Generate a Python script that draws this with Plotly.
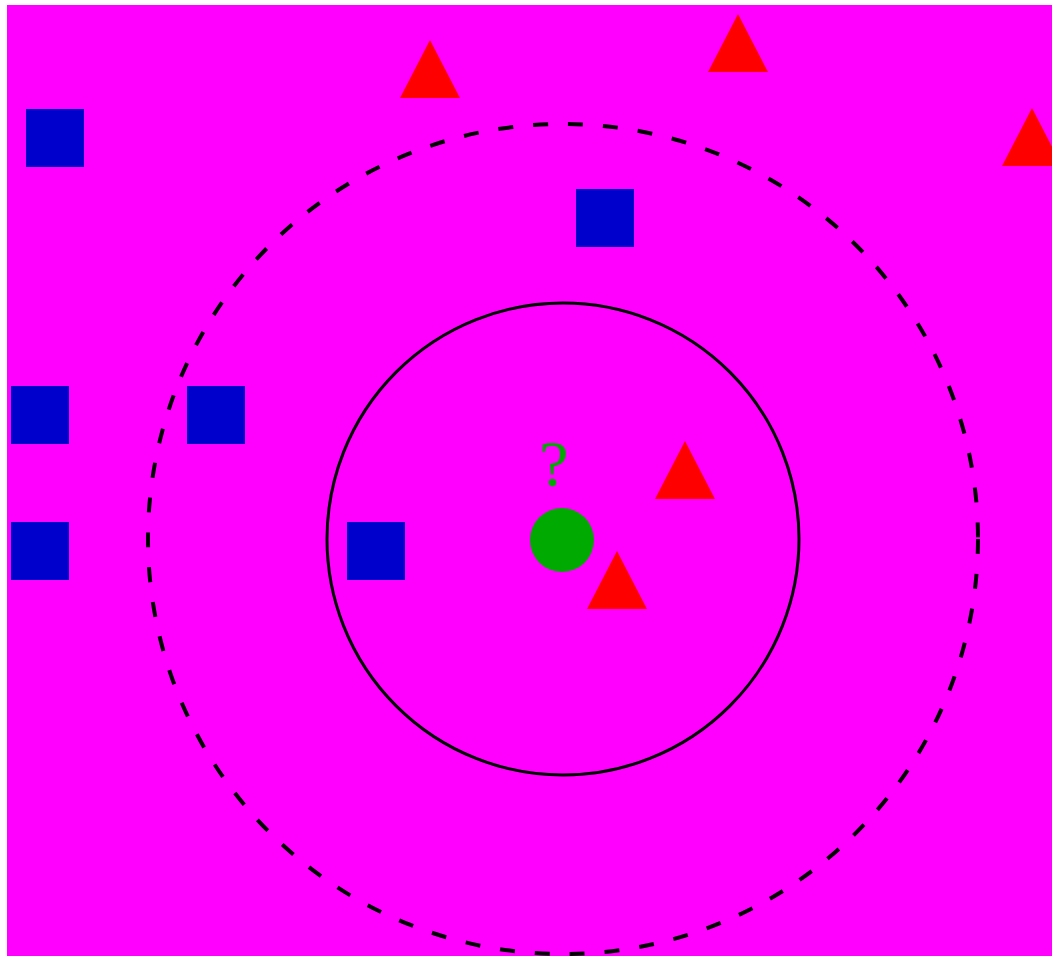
import plotly.graph_objects as go

# Data (pixel-space coordinates)
square_x = [55, 605, 40, 216, 40, 376]
square_y = [138, 218, 415, 415, 551, 551]

triangle_x = [430, 738, 1032, 685, 617]
triangle_y = [69, 43, 137, 470, 580]

query_x = [562]
query_y = [540]
query_label = ["?"]

center_x = 563
center_y = 539
radius_k3 = 236
radius_k5 = 415

W, H = 1052, 957
TRI_HW, TRI_HH = 30, 29

fig = go.Figure()

# circles
fig.add_shape(type="circle", xref="x", yref="y",
              x0=center_x - radius_k5, x1=center_x + radius_k5,
              y0=center_y - radius_k5, y1=center_y + radius_k5,
              line=dict(color="black", width=4, dash="15px,20px"), layer="below")
fig.add_shape(type="circle", xref="x", yref="y",
              x0=center_x - radius_k3, x1=center_x + radius_k3,
              y0=center_y - radius_k3, y1=center_y + radius_k3,
              line=dict(color="black", width=3), layer="below")

# squares
fig.add_trace(go.Scatter(x=square_x, y=square_y, mode="markers",
                         marker=dict(symbol="square", size=58, color="#0000CC",
                                     line=dict(width=0)),
                         hoverinfo="skip", showlegend=False))

# triangles as polygons
px, py = [], []
for cx, cy in zip(triangle_x, triangle_y):
    px += [cx - TRI_HW, cx + TRI_HW, cx, cx - TRI_HW, None]
    py += [cy + TRI_HH, cy + TRI_HH, cy - TRI_HH, cy + TRI_HH, None]
fig.add_trace(go.Scatter(x=px, y=py, mode="lines", fill="toself",
                         fillcolor="#FF0000", line=dict(width=0, color="#FF0000"),
                         hoverinfo="skip", showlegend=False))

# query point
fig.add_trace(go.Scatter(x=query_x, y=query_y, mode="markers",
                         marker=dict(symbol="circle", size=64, color="#00AA00",
                                     line=dict(width=0)),
                         hoverinfo="skip", showlegend=False))
fig.add_trace(go.Scatter(x=[x - 8 for x in query_x], y=[y - 71 for y in query_y],
                         mode="text", text=query_label,
                         textfont=dict(family="Liberation Serif", size=66, color="#00AA00"),
                         textposition="middle center",
                         hoverinfo="skip", showlegend=False))

fig.update_layout(
    width=W, height=H,
    margin=dict(l=7, r=0, t=5, b=1),
    paper_bgcolor="white", plot_bgcolor="#FF00FF",
    xaxis=dict(range=[7, 1052], visible=False, showgrid=False, zeroline=False, fixedrange=True),
    yaxis=dict(range=[956, 5], visible=False, showgrid=False, zeroline=False, fixedrange=True),
)

fig.write_html("out.html",
               config={"displayModeBar": False, "staticPlot": True},
               post_script="document.body.style.margin='0';document.body.style.overflow='hidden';")
